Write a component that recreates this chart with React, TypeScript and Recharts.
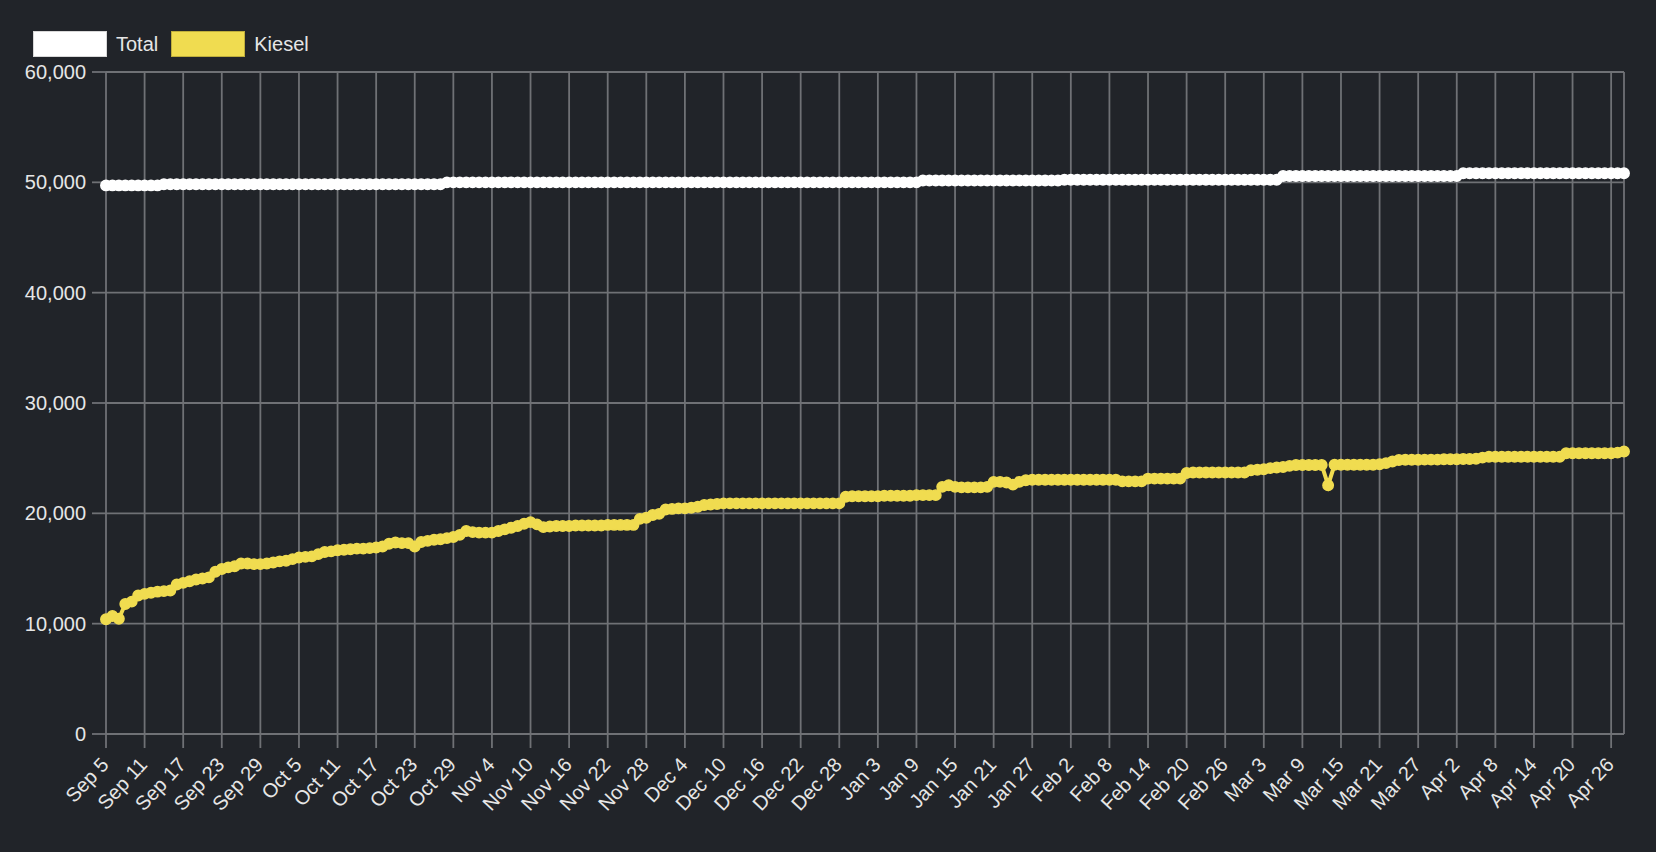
import { LineChart, Line, XAxis, YAxis, CartesianGrid, Legend } from 'recharts';

// ---------------------------------------------------------------------------
// Data (one reading per day, starting Sep 5)
// ---------------------------------------------------------------------------

const START_DATE = '2023-09-05';

const tickDates = [
  '2023-09-05', '2023-09-11', '2023-09-17', '2023-09-23', '2023-09-29',
  '2023-10-05', '2023-10-11', '2023-10-17', '2023-10-23', '2023-10-29',
  '2023-11-04', '2023-11-10', '2023-11-16', '2023-11-22', '2023-11-28',
  '2023-12-04', '2023-12-10', '2023-12-16', '2023-12-22', '2023-12-28',
  '2024-01-03', '2024-01-09', '2024-01-15', '2024-01-21', '2024-01-27',
  '2024-02-02', '2024-02-08', '2024-02-14', '2024-02-20', '2024-02-26',
  '2024-03-03', '2024-03-09', '2024-03-15', '2024-03-21', '2024-03-27',
  '2024-04-02', '2024-04-08', '2024-04-14', '2024-04-20', '2024-04-26',
];

const yTicks = [0, 10000, 20000, 30000, 40000, 50000, 60000];

const totalValues = [
  49720, 49720, 49720, 49720, 49720, 49720, 49720, 49720, 49720, 49830,
  49830, 49830, 49830, 49830, 49830, 49830, 49830, 49830, 49830, 49830,
  49830, 49830, 49830, 49830, 49830, 49830, 49830, 49830, 49830, 49830,
  49830, 49830, 49830, 49830, 49830, 49830, 49830, 49830, 49830, 49830,
  49830, 49830, 49830, 49830, 49830, 49830, 49830, 49830, 49830, 49830,
  49830, 49830, 49830, 50000, 50000, 50000, 50000, 50000, 50000, 50000,
  50000, 50000, 50000, 50000, 50000, 50000, 50000, 50000, 50000, 50000,
  50000, 50000, 50000, 50000, 50000, 50000, 50000, 50000, 50000, 50000,
  50000, 50000, 50000, 50000, 50000, 50000, 50000, 50000, 50000, 50000,
  50000, 50000, 50000, 50000, 50000, 50000, 50000, 50000, 50000, 50000,
  50000, 50000, 50000, 50000, 50000, 50000, 50000, 50000, 50000, 50000,
  50000, 50000, 50000, 50000, 50000, 50000, 50000, 50000, 50000, 50000,
  50000, 50000, 50000, 50000, 50000, 50000, 50000, 50170, 50170, 50170,
  50170, 50170, 50170, 50170, 50170, 50170, 50170, 50170, 50170, 50170,
  50170, 50170, 50170, 50170, 50170, 50170, 50170, 50170, 50170, 50230,
  50230, 50230, 50230, 50230, 50230, 50230, 50230, 50230, 50230, 50230,
  50230, 50230, 50230, 50230, 50230, 50230, 50230, 50230, 50230, 50230,
  50230, 50230, 50230, 50230, 50230, 50230, 50230, 50230, 50230, 50230,
  50230, 50230, 50230, 50580, 50580, 50580, 50580, 50580, 50580, 50580,
  50580, 50580, 50580, 50580, 50580, 50580, 50580, 50580, 50580, 50580,
  50580, 50580, 50580, 50580, 50580, 50580, 50580, 50580, 50580, 50580,
  50580, 50820, 50820, 50820, 50820, 50820, 50820, 50820, 50820, 50820,
  50820, 50820, 50820, 50820, 50820, 50820, 50820, 50820, 50820, 50820,
  50820, 50820, 50820, 50820, 50820, 50820, 50820,
];

const kieselValues = [
  10400, 10700, 10450, 11780, 12000, 12550, 12700, 12800, 12900, 12950,
  13000, 13550, 13700, 13850, 14000, 14100, 14200, 14700, 14950, 15100,
  15200, 15450, 15450, 15400, 15400, 15450, 15550, 15650, 15700, 15850,
  16000, 16050, 16100, 16300, 16500, 16550, 16650, 16700, 16750, 16800,
  16800, 16850, 16900, 17000, 17250, 17350, 17300, 17300, 17000, 17400,
  17500, 17600, 17650, 17750, 17850, 18050, 18400, 18300, 18250, 18250,
  18250, 18400, 18550, 18700, 18850, 19050, 19200, 19000, 18750, 18800,
  18850, 18850, 18850, 18900, 18900, 18900, 18900, 18900, 18950, 18950,
  18950, 18950, 18950, 19500, 19600, 19850, 19950, 20350, 20400, 20450,
  20450, 20500, 20600, 20750, 20800, 20850, 20900, 20900, 20900, 20900,
  20900, 20900, 20900, 20900, 20900, 20900, 20900, 20900, 20900, 20900,
  20900, 20900, 20900, 20900, 20900, 21500, 21550, 21550, 21550, 21550,
  21550, 21600, 21600, 21600, 21600, 21600, 21650, 21650, 21650, 21650,
  22400, 22550, 22400, 22350, 22350, 22350, 22350, 22400, 22850, 22850,
  22800, 22600, 22850, 23000, 23050, 23050, 23050, 23050, 23050, 23050,
  23050, 23050, 23050, 23050, 23050, 23050, 23050, 23050, 22900, 22900,
  22900, 22900, 23150, 23150, 23150, 23150, 23150, 23150, 23650, 23700,
  23700, 23700, 23700, 23700, 23700, 23700, 23700, 23700, 23900, 23950,
  24000, 24100, 24150, 24200, 24300, 24380, 24380, 24380, 24380, 24380,
  22550, 24400, 24400, 24400, 24400, 24400, 24400, 24400, 24450, 24550,
  24700, 24830, 24850, 24850, 24850, 24870, 24870, 24870, 24900, 24900,
  24900, 24920, 24920, 24950, 25050, 25130, 25130, 25130, 25130, 25130,
  25130, 25130, 25130, 25130, 25130, 25130, 25130, 25440, 25440, 25440,
  25440, 25440, 25440, 25440, 25440, 25500, 25600,
];

const seriesLabels = ['Total', 'Kiesel'];

// ---------------------------------------------------------------------------
// Styling
// ---------------------------------------------------------------------------

const BG = '#212429';
const GRID = '#6f7175';
const TEXT = '#e6e6e6';
const FONT = '"Liberation Sans", Arial, Helvetica, sans-serif';
const WHITE = '#ffffff';
const YELLOW = '#f0dc50';

const SERIES = [
  { key: 'total', label: seriesLabels[0], color: WHITE, border: '#d8d8d8' },
  { key: 'kiesel', label: seriesLabels[1], color: YELLOW, border: '#bfae3c' },
];

const DAY_MS = 86400000;
const dayOf = (iso: string) => (Date.parse(iso) - Date.parse(START_DATE)) / DAY_MS;

const data = totalValues.map((total, i) => ({
  t: i,
  total,
  kiesel: kieselValues[i],
}));

const LAST_DAY = data.length - 1;
const xTicks = tickDates.map(dayOf);
const tickLabel = new Map(
  tickDates.map((iso) => [
    dayOf(iso),
    new Date(iso).toLocaleDateString('en-US', { month: 'short', day: 'numeric', timeZone: 'UTC' }),
  ]),
);

// ---------------------------------------------------------------------------
// Pieces
// ---------------------------------------------------------------------------

interface TickProps {
  x?: number;
  y?: number;
  payload?: { value: number };
}

function DateTick({ x = 0, y = 0, payload }: TickProps) {
  return (
    <text
      x={x}
      y={y}
      transform={`rotate(-47, ${x}, ${y})`}
      textAnchor="end"
      dominantBaseline="middle"
      fill={TEXT}
      fontSize={20}
      fontFamily={FONT}
    >
      {tickLabel.get(payload?.value ?? -1) ?? ''}
    </text>
  );
}

function ChartLegend() {
  return (
    <div style={{ display: 'flex', alignItems: 'center', fontFamily: FONT, fontSize: 20, color: TEXT }}>
      {SERIES.map((s) => (
        <div key={s.key} style={{ display: 'flex', alignItems: 'center', marginRight: 13 }}>
          <span
            style={{
              display: 'inline-block',
              width: 74,
              height: 26,
              background: s.color,
              border: `1px solid ${s.border}`,
              boxSizing: 'border-box',
              marginRight: 9,
            }}
          />
          <span>{s.label}</span>
        </div>
      ))}
    </div>
  );
}

export default function App() {
  return (
    <div style={{ position: 'absolute', left: 0, top: 0, width: 1656, height: 852, background: BG }}>
      <LineChart
        width={1656}
        height={852}
        data={data}
        margin={{ top: 72, right: 32, bottom: 0, left: 0 }}
      >
        <CartesianGrid stroke={GRID} strokeWidth={1.8} />
        <XAxis
          dataKey="t"
          type="number"
          domain={[0, LAST_DAY]}
          ticks={xTicks}
          interval={0}
          height={118}
          tick={<DateTick />}
          tickSize={14}
          tickMargin={14}
          tickLine={{ stroke: GRID, strokeWidth: 1.8 }}
          axisLine={{ stroke: GRID, strokeWidth: 1.8 }}
        />
        <YAxis
          type="number"
          domain={[0, 60000]}
          ticks={yTicks}
          interval={0}
          width={106}
          tickSize={14}
          tickMargin={6}
          tickLine={{ stroke: GRID, strokeWidth: 1.8 }}
          axisLine={false}
          tick={{ fill: TEXT, fontSize: 20, fontFamily: FONT }}
          tickFormatter={(v: number) => v.toLocaleString('en-US')}
        />
        <Legend
          verticalAlign="middle"
          align="center"
          content={<ChartLegend />}
          wrapperStyle={{ top: 31, left: 33, width: 'auto' }}
        />
        {SERIES.map((s) => (
          <Line
            key={s.key}
            dataKey={s.key}
            name={s.label}
            type="linear"
            stroke={s.color}
            strokeWidth={4}
            dot={{ r: 5.2, fill: s.color, stroke: s.color, strokeWidth: 1.5 }}
            isAnimationActive={false}
          />
        ))}
      </LineChart>
    </div>
  );
}
